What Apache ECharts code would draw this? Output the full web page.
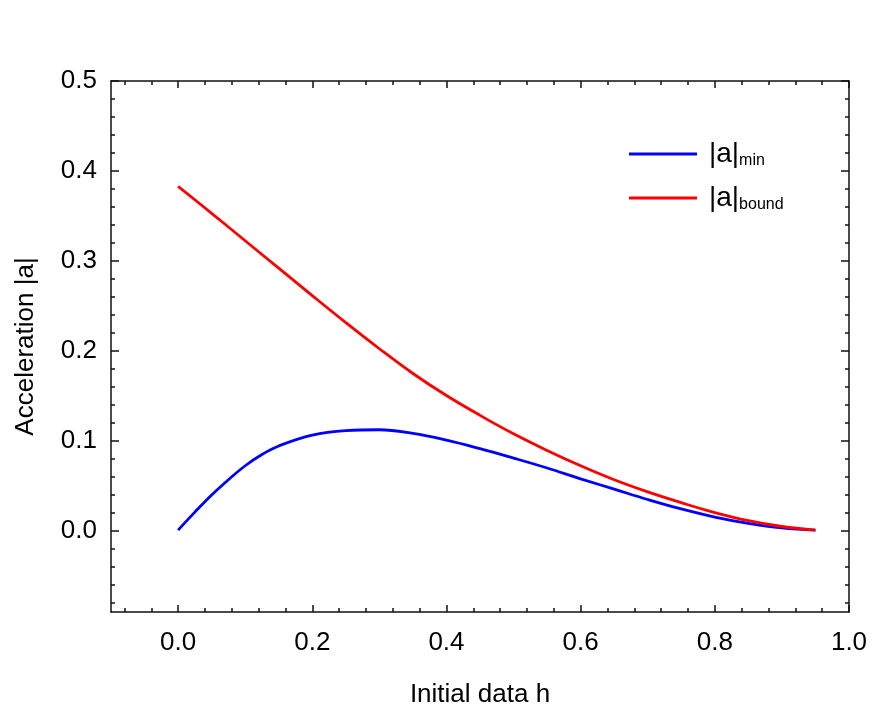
<!DOCTYPE html>
<html>
<head>
<meta charset="utf-8">
<script src="https://cdn.jsdelivr.net/npm/echarts@6/dist/echarts.min.js"></script>
<style>
  html, body { margin: 0; padding: 0; background: #fff; }
  #main { width: 892px; height: 717px; }
</style>
</head>
<body>
<div id="main"></div>
<script>
// h values and the two curves
var hMin = [0, 0.025, 0.05, 0.075, 0.1, 0.125, 0.15, 0.2, 0.25, 0.3, 0.35, 0.4, 0.45, 0.5, 0.55, 0.6, 0.65, 0.7, 0.75, 0.8, 0.85, 0.9, 0.95];
var aMin = [0.001, 0.021, 0.040, 0.057, 0.0725, 0.085, 0.0945, 0.1065, 0.1115, 0.1125, 0.1085, 0.101, 0.0915, 0.081, 0.070, 0.058, 0.0465, 0.035, 0.0245, 0.0155, 0.0085, 0.0035, 0.001];

var hBound = [0, 0.05, 0.1, 0.15, 0.2, 0.25, 0.3, 0.35, 0.4, 0.45, 0.5, 0.55, 0.6, 0.65, 0.7, 0.75, 0.8, 0.85, 0.9, 0.95];
var aBound = [0.383, 0.353, 0.3225, 0.292, 0.2615, 0.2315, 0.2025, 0.175, 0.1505, 0.1285, 0.108, 0.0895, 0.0725, 0.057, 0.0435, 0.0315, 0.0205, 0.0115, 0.005, 0.001];

var seriesNames = ['min', 'bound'];

// axis ticks / labels
var xTicks = [0, 0.2, 0.4, 0.6, 0.8, 1.0];
var yTicks = [0, 0.1, 0.2, 0.3, 0.4, 0.5];
var xMin = -0.1, xMax = 1.0, xMinorStep = 0.04;
var yMin = -0.09, yMax = 0.5, yMinorStep = 0.02;

function pairs(xs, ys) {
  var out = [];
  for (var i = 0; i < xs.length; i++) out.push([xs[i], ys[i]]);
  return out;
}

// minor tick positions between the major ones
function minorValues(min, max, step) {
  var out = [];
  var start = Math.ceil(min / step - 1e-9);
  for (var k = start; k * step <= max + 1e-9; k++) {
    var v = Math.round(k * step * 1000) / 1000;
    if (v <= min || v >= max) continue;
    var major = v / (step * 5);
    if (Math.abs(major - Math.round(major)) < 1e-6) continue;
    out.push(v);
  }
  return out;
}
var xMinor = minorValues(xMin, xMax, xMinorStep);
var yMinor = minorValues(yMin, yMax, yMinorStep);

var FONT = '"Liberation Sans", Arial, sans-serif';
var INK = '#111';

function xAx(pos, ticks, len, withLine, withLabel) {
  var ax = {
    type: 'value',
    position: pos,
    min: xMin,
    max: xMax,
    axisLine: { show: withLine, onZero: false, lineStyle: { color: INK, width: 1.5 } },
    axisTick: { show: true, inside: true, length: len, customValues: ticks, lineStyle: { color: INK, width: 1.5 } },
    splitLine: { show: false },
    axisLabel: { show: false }
  };
  if (withLabel) {
    ax.axisLabel = {
      show: true, customValues: ticks, fontSize: 26, fontFamily: FONT, color: '#000', margin: 18,
      formatter: function (v) { return v.toFixed(1); }
    };
    ax.name = 'Initial data h';
    ax.nameLocation = 'middle';
    ax.nameGap = 70;
    ax.nameTextStyle = { fontSize: 26, fontFamily: FONT, color: '#000' };
  }
  return ax;
}

function yAx(pos, ticks, len, withLine, withLabel) {
  var ax = {
    type: 'value',
    position: pos,
    min: yMin,
    max: yMax,
    axisLine: { show: withLine, onZero: false, lineStyle: { color: INK, width: 1.5 } },
    axisTick: { show: true, inside: true, length: len, customValues: ticks, lineStyle: { color: INK, width: 1.5 } },
    splitLine: { show: false },
    axisLabel: { show: false }
  };
  if (withLabel) {
    ax.axisLabel = {
      show: true, customValues: ticks, fontSize: 26, fontFamily: FONT, color: '#000', margin: 14,
      formatter: function (v) { return v.toFixed(1); }
    };
    ax.name = 'Acceleration |a|';
    ax.nameLocation = 'middle';
    ax.nameGap = 72;
    ax.nameTextStyle = { fontSize: 26, fontFamily: FONT, color: '#000' };
  }
  return ax;
}

var myChart = echarts.init(document.getElementById('main'));
myChart.setOption({
  animation: false,
  grid: { left: 111, right: 43, top: 81, bottom: 105 },
  legend: {
    orient: 'vertical',
    left: 624,
    top: 135,
    icon: 'rect',
    itemWidth: 68,
    itemHeight: 2.8,
    itemGap: 15,
    data: seriesNames,
    formatter: function (name) { return '{a||a|}{s|' + name + '}'; },
    textStyle: {
      color: '#000',
      rich: {
        a: { fontSize: 28, fontFamily: FONT, color: '#000', lineHeight: 30, padding: [0, 0, 0, 7] },
        s: { fontSize: 16, fontFamily: FONT, color: '#000', verticalAlign: 'bottom', lineHeight: 30, padding: [9, 0, 0, 0] }
      }
    }
  },
  xAxis: [
    xAx('bottom', xTicks, 7, true, true),
    xAx('bottom', xMinor, 4, false, false),
    xAx('top', xTicks, 7, true, false),
    xAx('top', xMinor, 4, false, false)
  ],
  yAxis: [
    yAx('left', yTicks, 8, true, true),
    yAx('left', yMinor, 4, false, false),
    yAx('right', yTicks, 8, true, false),
    yAx('right', yMinor, 4, false, false)
  ],
  series: [
    {
      name: seriesNames[0],
      type: 'line',
      xAxisIndex: 0,
      yAxisIndex: 0,
      smooth: 0.4,
      symbol: 'none',
      color: '#0000ff',
      lineStyle: { color: '#0000ff', width: 2.8 },
      data: pairs(hMin, aMin)
    },
    {
      name: seriesNames[1],
      type: 'line',
      xAxisIndex: 0,
      yAxisIndex: 0,
      smooth: 0.4,
      symbol: 'none',
      color: '#ff0000',
      lineStyle: { color: '#ff0000', width: 2.8 },
      data: pairs(hBound, aBound)
    }
  ]
});
</script>
</body>
</html>
